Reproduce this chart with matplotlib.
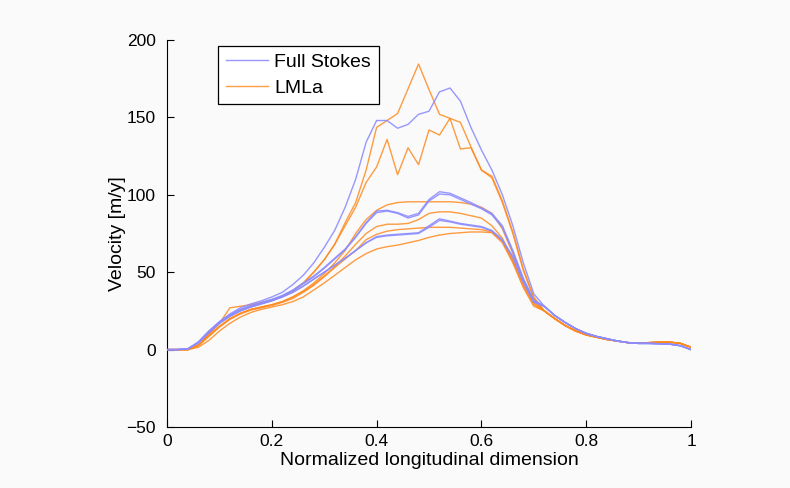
import numpy as np
import matplotlib
matplotlib.use("Agg")
import matplotlib.pyplot as plt

x = np.round(np.arange(0, 1.0001, 0.02), 2)

# ---- tails (x = 0.72 ... 1.00) ----
tail_fs = [28, 22, 17.5, 13.5, 10.5, 8.5, 7, 5.5, 4.5, 4, 4, 3.8, 3.5, 2.5, 0]
tail_lm = [25, 20, 15.5, 12, 9.5, 8, 6.5, 5.5, 4.5, 4.3, 4.5, 4.8, 4.8, 4, 1.5]

# ---- Full Stokes (x = 0 ... 0.70) ----
fs_big = [0, 0, 0.5, 5, 12, 18, 23, 27, 29.5, 31.5, 34, 37, 42, 48, 56, 66, 77, 92,
          110, 134, 148, 148, 143, 145.5, 152, 154, 166.5, 169, 160.5, 143.5, 129,
          116, 100, 80, 56, 36]
fs_mid1 = [0, 0, 0.5, 5, 12, 18, 22.5, 26, 28.5, 30.5, 32.5, 35, 38.5, 43, 47.5, 53,
           59, 65, 73, 82, 89.5, 90, 88.5, 86, 88, 97, 102, 101, 98, 95, 91.5,
           88, 80, 64, 46, 32]
fs_mid2 = [0, 0, 0.5, 4.5, 11.5, 17.5, 22, 25.5, 28, 30, 32, 34.5, 38, 42.5, 47, 52.5,
           58.5, 64.5, 72.5, 81.5, 88.5, 89.5, 88, 85, 87, 96, 100.5, 100, 97, 94, 91,
           87, 79, 63, 45.5, 31.5]
fs_low1 = [0, 0, 0.5, 4.5, 11, 17, 21.5, 25, 27.5, 29.5, 31.5, 34, 37, 41, 45.5, 50,
           54.5, 59, 64, 69, 73, 74, 74.5, 75, 75.5, 80, 84.5, 83, 81.5, 80.5, 79.5,
           77, 71, 60, 44, 31]
fs_low2 = [0, 0, 0.5, 4.5, 11, 17, 21.5, 25, 27.5, 29.5, 31.5, 34, 37, 41, 45.5, 50,
           54.5, 59, 64, 69, 72.5, 73.5, 74, 74.5, 75, 79, 83.5, 82.5, 81, 80, 79,
           76.5, 70.5, 59.5, 43.5, 30.5]

# ---- LMLa (x = 0 ... 0.70) ----
lm_a = [0, 0, 0, 3, 10, 17, 22, 25.5, 28, 30, 32, 34.5, 38, 43, 50, 58, 68, 82,
        95, 116, 143.6, 148, 152.5, 168.5, 184.5, 168, 152, 149.4, 146.8, 131, 116,
        112, 96, 76, 52, 34]
lm_b = [0, 0, 0, 3, 10, 17, 27, 28, 29, 30.5, 32, 34.5, 38, 43, 50, 58, 68, 80,
        92, 108, 118, 135.8, 113, 130.4, 119.5, 141.9, 138.6, 149.4, 129.6, 130.4, 116,
        111, 95, 75, 51, 33]
lm_c = [0, 0, 0, 3, 9, 15, 20, 23.5, 26, 27.5, 29, 31, 34, 38, 43, 49, 56, 64,
        75, 84, 90, 93.5, 95, 95.5, 95.5, 95.5, 95.5, 95.5, 95, 94, 92,
        88, 78, 62, 45, 31]
lm_d = [0, 0, 0, 3, 9, 15, 20, 23.5, 26, 27.5, 29, 31, 34, 37.5, 42, 47.5, 53.5, 60.5,
        68, 75, 79.5, 81, 81, 81.5, 84, 88, 89, 89, 88, 86.5, 85,
        80, 72, 58, 42, 30]
lm_e = [0, 0, 0, 2.5, 8.5, 14.5, 19.5, 23, 25.5, 27, 28.5, 30.5, 33, 37, 41.5, 47, 53, 58.5,
        64, 71, 74.5, 76.5, 77.5, 78, 78.5, 79, 79, 79, 78.5, 78, 77.5,
        76, 70, 57, 41, 29]
lm_f = [0, 0, 0, 1.5, 6, 12, 17, 21, 24, 26, 27.5, 29, 31, 34, 38.5, 43, 48, 53,
        58, 62, 65, 66.5, 67.5, 69, 70.5, 72.5, 74, 75, 75.5, 76, 76,
        75.5, 69, 56, 40, 28]

full_stokes = [fs_big, fs_mid1, fs_mid2, fs_low1, fs_low2]
lmla = [lm_a, lm_b, lm_c, lm_d, lm_e, lm_f]

xticks = [0, 0.2, 0.4, 0.6, 0.8, 1]
xticklabels = ["0", "0.2", "0.4", "0.6", "0.8", "1"]
yticks = [-50, 0, 50, 100, 150, 200]
yticklabels = ["\u221250", "0", "50", "100", "150", "200"]

plt.rcParams['font.family'] = ['Liberation Sans', 'DejaVu Sans']
bg = '#fafafa'
fig = plt.figure(figsize=(7.9, 4.88), dpi=100, facecolor=bg)
ax = fig.add_axes([0.2114, 0.125, 0.6633, 0.793], facecolor=bg)

blue = '#8c8cff'
orange = '#ff8a1f'
for i, s in enumerate(full_stokes):
    ax.plot(x, list(s) + tail_fs, color=blue, lw=1.0, alpha=0.9,
            label='Full Stokes' if i == 0 else None, zorder=3)
for i, s in enumerate(lmla):
    ax.plot(x, list(s) + tail_lm, color=orange, lw=1.0, alpha=0.85,
            label='LMLa' if i == 0 else None, zorder=2)

ax.set_xlim(0, 1)
ax.set_ylim(-50, 200)
ax.set_xticks(xticks)
ax.set_xticklabels(xticklabels)
ax.set_yticks(yticks)
ax.set_yticklabels(yticklabels)
ax.tick_params(direction='in', labelsize=12.5, length=5, width=0.8, colors='black')
ax.tick_params(axis='y', pad=8)
ax.tick_params(axis='x', pad=5)
ax.spines['top'].set_visible(False)
ax.spines['right'].set_visible(False)
for sp in ['left', 'bottom']:
    ax.spines[sp].set_linewidth(0.8)
ax.set_xlabel('Normalized longitudinal dimension', fontsize=14, labelpad=2)
ax.set_ylabel('Velocity [m/y]', fontsize=14, labelpad=0)

leg = ax.legend(loc='upper left', bbox_to_anchor=(0.097, 0.985), borderaxespad=0,
                fontsize=14, fancybox=False, edgecolor='black', framealpha=1,
                handlelength=2.2, handletextpad=0.3, borderpad=0.4, labelspacing=0.4)
leg.get_frame().set_linewidth(0.9)

fig.savefig('out.png', dpi=100, facecolor=bg)
